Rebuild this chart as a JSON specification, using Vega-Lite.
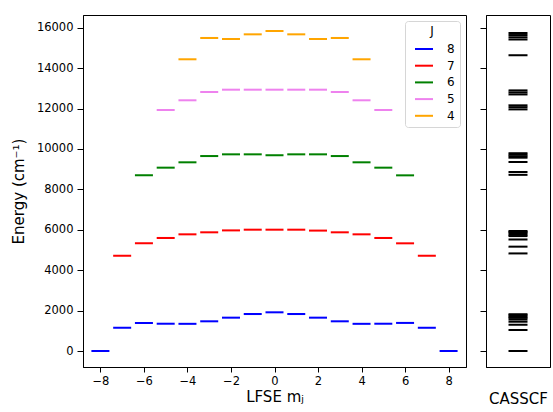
{
  "$schema": "https://vega.github.io/schema/vega-lite/v6.json",
  "padding": {"left": 10, "top": 14, "right": 4, "bottom": 5},
  "spacing": 12,
  "datasets": {
    "lfse": [
      {"J": "8", "mJ": -8, "E": 0}, {"J": "8", "mJ": -7, "E": 1150}, {"J": "8", "mJ": -6, "E": 1390}, {"J": "8", "mJ": -5, "E": 1350}, {"J": "8", "mJ": -4, "E": 1345}, {"J": "8", "mJ": -3, "E": 1470}, {"J": "8", "mJ": -2, "E": 1650}, {"J": "8", "mJ": -1, "E": 1830}, {"J": "8", "mJ": 0, "E": 1915}, {"J": "8", "mJ": 1, "E": 1830}, {"J": "8", "mJ": 2, "E": 1650}, {"J": "8", "mJ": 3, "E": 1470}, {"J": "8", "mJ": 4, "E": 1345}, {"J": "8", "mJ": 5, "E": 1350}, {"J": "8", "mJ": 6, "E": 1390}, {"J": "8", "mJ": 7, "E": 1150}, {"J": "8", "mJ": 8, "E": 0},
      {"J": "7", "mJ": -7, "E": 4715}, {"J": "7", "mJ": -6, "E": 5330}, {"J": "7", "mJ": -5, "E": 5595}, {"J": "7", "mJ": -4, "E": 5775}, {"J": "7", "mJ": -3, "E": 5875}, {"J": "7", "mJ": -2, "E": 5970}, {"J": "7", "mJ": -1, "E": 6005}, {"J": "7", "mJ": 0, "E": 6005}, {"J": "7", "mJ": 1, "E": 6005}, {"J": "7", "mJ": 2, "E": 5960}, {"J": "7", "mJ": 3, "E": 5875}, {"J": "7", "mJ": 4, "E": 5775}, {"J": "7", "mJ": 5, "E": 5595}, {"J": "7", "mJ": 6, "E": 5330}, {"J": "7", "mJ": 7, "E": 4715},
      {"J": "6", "mJ": -6, "E": 8695}, {"J": "6", "mJ": -5, "E": 9075}, {"J": "6", "mJ": -4, "E": 9340}, {"J": "6", "mJ": -3, "E": 9650}, {"J": "6", "mJ": -2, "E": 9735}, {"J": "6", "mJ": -1, "E": 9735}, {"J": "6", "mJ": 0, "E": 9690}, {"J": "6", "mJ": 1, "E": 9735}, {"J": "6", "mJ": 2, "E": 9735}, {"J": "6", "mJ": 3, "E": 9650}, {"J": "6", "mJ": 4, "E": 9340}, {"J": "6", "mJ": 5, "E": 9075}, {"J": "6", "mJ": 6, "E": 8695},
      {"J": "5", "mJ": -5, "E": 11930}, {"J": "5", "mJ": -4, "E": 12410}, {"J": "5", "mJ": -3, "E": 12820}, {"J": "5", "mJ": -2, "E": 12935}, {"J": "5", "mJ": -1, "E": 12935}, {"J": "5", "mJ": 0, "E": 12935}, {"J": "5", "mJ": 1, "E": 12935}, {"J": "5", "mJ": 2, "E": 12935}, {"J": "5", "mJ": 3, "E": 12820}, {"J": "5", "mJ": 4, "E": 12410}, {"J": "5", "mJ": 5, "E": 11930},
      {"J": "4", "mJ": -4, "E": 14440}, {"J": "4", "mJ": -3, "E": 15495}, {"J": "4", "mJ": -2, "E": 15445}, {"J": "4", "mJ": -1, "E": 15675}, {"J": "4", "mJ": 0, "E": 15840}, {"J": "4", "mJ": 1, "E": 15675}, {"J": "4", "mJ": 2, "E": 15445}, {"J": "4", "mJ": 3, "E": 15495}, {"J": "4", "mJ": 4, "E": 14440}
    ],
    "casscf": [
      {"E": 0}, {"E": 1040}, {"E": 1300}, {"E": 1450}, {"E": 1560}, {"E": 1640}, {"E": 1700}, {"E": 1770}, {"E": 1820},
      {"E": 4830}, {"E": 5165}, {"E": 5520}, {"E": 5690}, {"E": 5760}, {"E": 5830}, {"E": 5890}, {"E": 5940},
      {"E": 8720}, {"E": 8860}, {"E": 9355}, {"E": 9570}, {"E": 9640}, {"E": 9720}, {"E": 9790},
      {"E": 11960}, {"E": 12070}, {"E": 12160}, {"E": 12700}, {"E": 12800}, {"E": 12900},
      {"E": 14640}, {"E": 15420}, {"E": 15530}, {"E": 15640}, {"E": 15740}
    ]
  },
  "hconcat": [
    {
      "width": 383,
      "height": 352,
      "data": {"name": "lfse"},
      "mark": {"type": "tick", "orient": "horizontal", "filled": false, "size": 16, "thickness": 0.01, "strokeWidth": 2, "opacity": 1},
      "encoding": {
        "x": {"field": "mJ", "type": "quantitative", "scale": {"domain": [-8.8, 8.8], "nice": false, "zero": false},
          "axis": {"values": [-8, -6, -4, -2, 0, 2, 4, 6, 8], "title": "LFSE mⱼ", "titlePadding": 3}},
        "y": {"field": "E", "type": "quantitative", "scale": {"domain": [-792, 16632], "nice": false, "zero": false},
          "axis": {"values": [0, 2000, 4000, 6000, 8000, 10000, 12000, 14000, 16000], "format": "d", "title": "Energy (cm⁻¹)", "titlePadding": 10, "tickSize": 6, "labelPadding": 4}},
        "color": {"field": "J", "type": "nominal",
          "scale": {"domain": ["8", "7", "6", "5", "4"], "range": ["#0000ff", "#ff0000", "#008000", "#ee82ee", "#ffa500"]},
          "legend": {"orient": "top-right", "offset": 6, "symbolType": "stroke", "symbolSize": 324, "symbolStrokeWidth": 2,
            "strokeColor": "#d6d6d6", "cornerRadius": 3, "padding": 5, "fillColor": "white", "titleAnchor": "middle",
            "titleFontSize": 12, "titleFontWeight": "normal", "titleColor": "black", "labelColor": "black", "labelFontSize": 12,
            "labelOffset": 13, "titlePadding": 1, "rowPadding": 0.7, "symbolOffset": 4}}
      }
    },
    {
      "width": 64,
      "height": 352,
      "data": {"name": "casscf"},
      "mark": {"type": "tick", "orient": "horizontal", "filled": false, "size": 17, "thickness": 0.01, "strokeWidth": 2, "color": "black", "opacity": 1},
      "encoding": {
        "x": {"datum": 0.5, "type": "quantitative", "scale": {"domain": [0, 1], "nice": false, "zero": false},
          "axis": {"ticks": false, "labels": false, "title": "CASSCF", "titlePadding": 24}},
        "y": {"field": "E", "type": "quantitative", "scale": {"domain": [-792, 16632], "nice": false, "zero": false},
          "axis": {"values": [0, 2000, 4000, 6000, 8000, 10000, 12000, 14000, 16000], "labels": false, "title": null, "tickSize": 6}}
      }
    }
  ],
  "resolve": {"scale": {"y": "independent", "x": "independent", "color": "independent"}, "legend": {"color": "independent"}},
  "config": {
    "font": "DejaVu Sans",
    "view": {"stroke": "black", "strokeWidth": 1},
    "axis": {"grid": false, "domainColor": "black", "tickColor": "black", "labelColor": "black", "titleColor": "black",
      "labelFontSize": 11.5, "titleFontSize": 15, "titleFontWeight": "normal", "tickSize": 5, "labelPadding": 3,
      "domainWidth": 1, "tickWidth": 1}
  }
}
